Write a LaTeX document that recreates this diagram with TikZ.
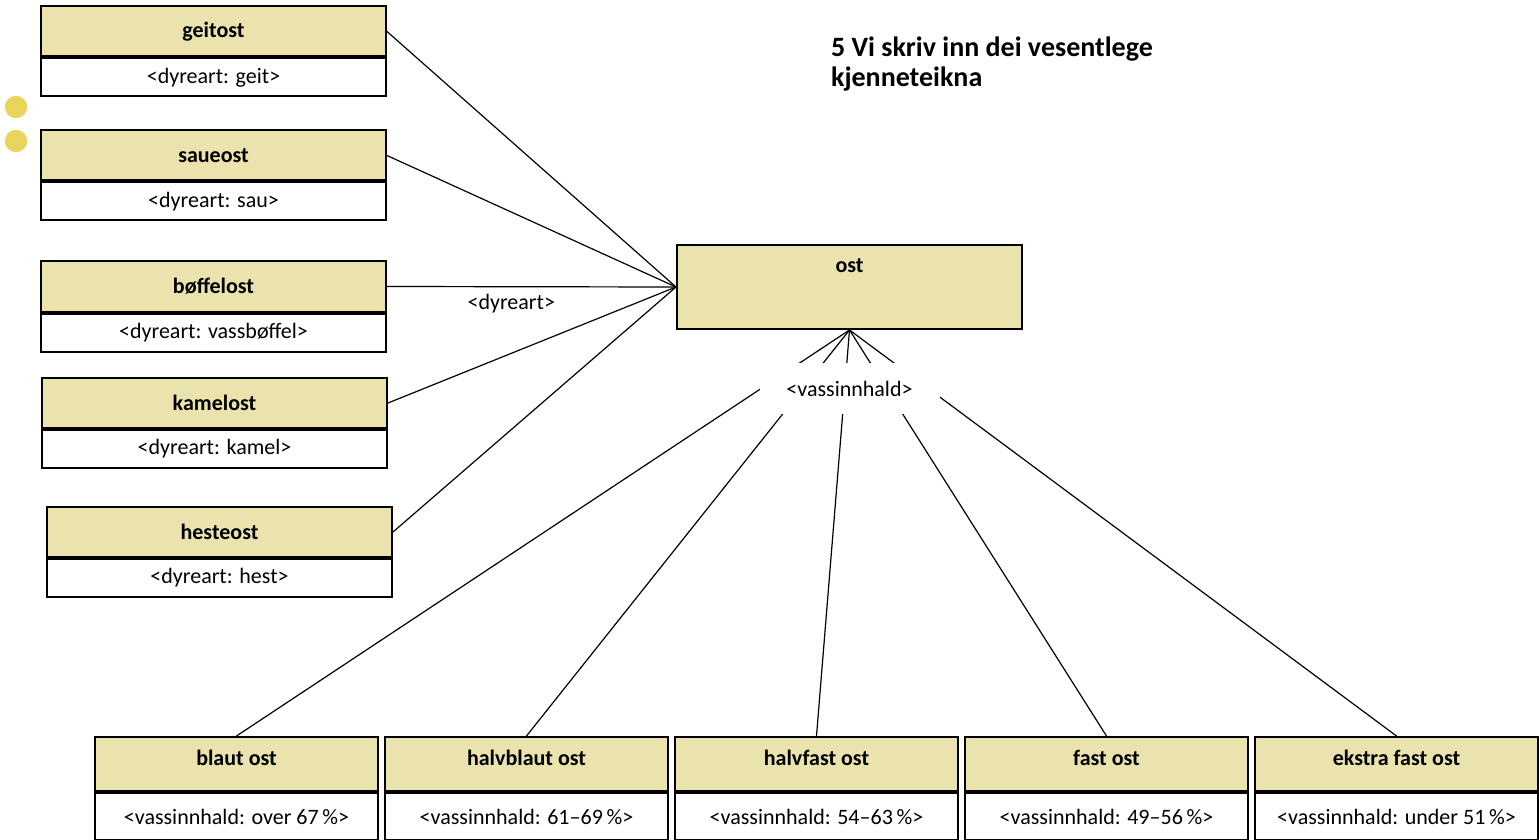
\documentclass[tikz,border=0pt]{standalone}
\usepackage{fontspec}
\setmainfont{Carlito}
\usetikzlibrary{positioning}
\definecolor{ostfill}{HTML}{EAE3AE}
\definecolor{dotyellow}{HTML}{E9D55B}
\begin{document}
\begin{tikzpicture}[x=0.5pt,y=-0.5pt,
	head/.style={draw, line width=1pt, fill=ostfill, font=\boxfont\bfseries,
		minimum width=172.5pt, minimum height=25pt},
	body/.style={draw, line width=1pt, fill=white, font=\boxfont,
		minimum width=172.5pt, minimum height=19pt},
	lowhead/.style={head, minimum width=141.5pt, minimum height=27pt, text depth=6pt},
	lowbody/.style={body, minimum width=141.5pt, minimum height=23.5pt},
	link/.style={line width=0.6pt}]
	\newcommand{\boxfont}{\fontsize{11}{13}\selectfont}
	\newcommand{\boxsep}{2.5pt}
	\useasboundingbox (0,0) rectangle (1539,840);
	%dots
	\fill [dotyellow] (16,107) circle (5.6pt);
	\fill [dotyellow] (16,141) circle (5.6pt);
	%title
	\node [anchor=north west, align=left, font=\fontsize{14}{15}\selectfont\bfseries]
	(title) at (824,30) {5 Vi skriv inn dei vesentlege\\kjenneteikna};
	%left boxes
	\node [head] (geit) at (213.5,31.5) {geitost};
	\node [body, below=0pt of geit] (geitb) {<dyreart: geit>};
	\node [head] (saue) at (213.5,155.5) {saueost};
	\node [body, below=0pt of saue] (saueb) {<dyreart: sau>};
	\node [head] (boffel) at (213.5,286.5) {bøffelost};
	\node [body, below=0pt of boffel] (boffelb) {<dyreart: vassbøffel>};
	\node [head] (kamel) at (214.5,403) {kamelost};
	\node [body, below=0pt of kamel] (kamelb) {<dyreart: kamel>};
	\node [head] (heste) at (219.5,532) {hesteost};
	\node [body, below=0pt of heste] (hesteb) {<dyreart: hest>};
	%main box
	\node [head, minimum height=42pt, text height=8pt, text depth=23pt]
	(ost) at (849.5,287) {ost};
	%bottom boxes
	\node [lowhead] (blaut) at (236.5,764) {blaut ost};
	\node [lowbody, below=0pt of blaut] (blautb) {<vassinnhald: over 67\,\%>};
	\node [lowhead, right=\boxsep of blaut] (halvblaut) {halvblaut ost};
	\node [lowbody, below=0pt of halvblaut] (halvblautb) {<vassinnhald: 61–69\,\%>};
	\node [lowhead, right=\boxsep of halvblaut] (halvfast) {halvfast ost};
	\node [lowbody, below=0pt of halvfast] (halvfastb) {<vassinnhald: 54–63\,\%>};
	\node [lowhead, right=\boxsep of halvfast] (fast) {fast ost};
	\node [lowbody, below=0pt of fast] (fastb) {<vassinnhald: 49–56\,\%>};
	\node [lowhead, right=\boxsep of fast] (ekstra) {ekstra fast ost};
	\node [lowbody, below=0pt of ekstra] (ekstrab) {<vassinnhald: under 51\,\%>};
	%dyreart links
	\foreach \kind in {geit,saue,kamel,heste}
	\draw [link] (\kind.east) -- (ost.west);
	\draw [link] (boffel.east) -- (ost.west)
	node [pos=0.43, below, font=\boxfont] (dyreart) {<dyreart>};
	%vassinnhald links
	\foreach \kind in {blaut,halvblaut,halvfast,fast,ekstra}
	\draw [link] (ost.south) -- (\kind.north);
	\node [fill=white, font=\boxfont, minimum width=90pt, minimum height=25.5pt,
		below=16.5pt of ost] (vass) {<vassinnhald>};
\end{tikzpicture}
\end{document}
